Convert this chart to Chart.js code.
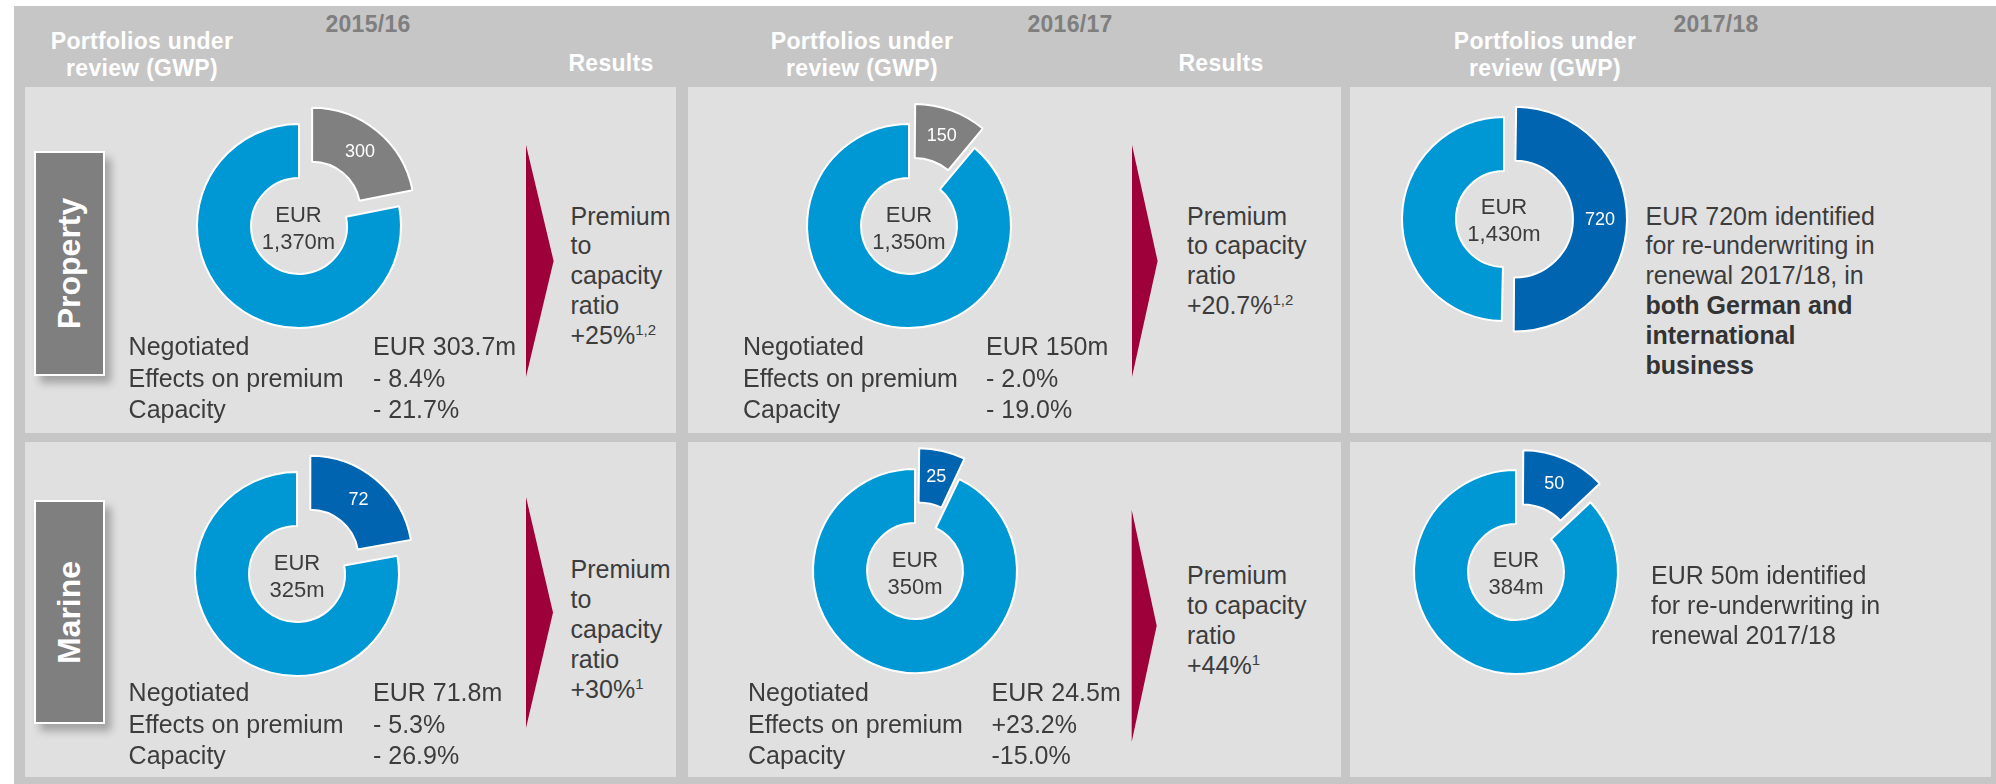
<!DOCTYPE html>
<html lang="en">
<head>
  <meta charset="UTF-8">
  <title>Portfolios under review (GWP)</title>
  <script src="https://cdn.jsdelivr.net/npm/chart.js"></script>
  <style>
    html, body { margin: 0; padding: 0; background: #fff; }
    body {
      width: 1996px; height: 784px; position: relative; overflow: hidden;
      font-family: "Liberation Sans", Arial, sans-serif; color: #3c3c3c;
    }
    .abs { position: absolute; white-space: nowrap; }
    .frame { left: 14px; top: 6px; width: 1982px; height: 778px; background: #c6c6c6; }
    .panel { background: #e0e0e0; }
    .hd { font-weight: bold; font-size: 23px; text-align: center; letter-spacing: 0.3px; }
    .year { color: #7f7f7f; line-height: 30px; }
    .white { color: #fff; }
    .body25 { font-size: 25px; }
    .center { font-size: 22px; line-height: 27px; text-align: center; width: 140px; }
    .tag {
      background: #7f7f7f; border: 2px solid #fff; box-sizing: border-box;
      box-shadow: 6px 7px 8px rgba(0,0,0,0.28);
      display: flex; align-items: center; justify-content: center;
    }
    .tag span { transform: rotate(-90deg); color: #fff; font-weight: bold; font-size: 32px; display: block; }
    sup { font-size: 15px; line-height: 0; vertical-align: 9px; }
    canvas { position: absolute; }
  </style>
</head>
<body>
  <div class="abs frame"></div>

  <script>
    // ---- data (EUR m, GWP) ----
    const years = ['2015/16', '2016/17', '2017/18'];
    const segments = ['Property', 'Marine'];
    const propertyTotal = [1370, 1350, 1430];
    const propertyReviewed = [300, 150, 720];
    const marineTotal = [325, 350, 384];
    const marineReviewed = [72, 25, 50];

    const propNegotiated = ['EUR 303.7m', 'EUR 150m'];
    const propPremium = ['- 8.4%', '- 2.0%'];
    const propCapacity = ['- 21.7%', '- 19.0%'];
    const marNegotiated = ['EUR 71.8m', 'EUR 24.5m'];
    const marPremium = ['- 5.3%', '+23.2%'];
    const marCapacity = ['- 26.9%', '-15.0%'];
    const propRatio = ['+25%', '+20.7%'];
    const propNote = ['1,2', '1,2'];
    const marRatio = ['+30%', '+44%'];
    const marNote = ['1', '1'];

    // ---- layout ----
    const BLUE = '#0098d4', DARK = '#0064b0', GREY = '#808080';
    const EXPLODE = 21; // px the reviewed slice is pulled out
    const colX = [[25, 676], [688, 1341], [1350, 1991]];
    const rowY = [[87, 433], [442, 777]];
    const centers = [
      [[298.5, 226], [909, 226], [1504, 218.5]],
      [[297, 574], [915, 571], [1516, 571.5]]
    ];
    const sliceColors = [[GREY, GREY, DARK], [DARK, DARK, DARK]];

    function put(cls, x, y, html, extra) {
      const d = document.createElement('div');
      d.className = 'abs ' + cls;
      d.style.left = x + 'px';
      d.style.top = y + 'px';
      if (extra) Object.assign(d.style, extra);
      d.innerHTML = html;
      document.body.appendChild(d);
      return d;
    }

    // panels
    rowY.forEach(r => colX.forEach(c => {
      put('panel', c[0], r[0], '', { width: (c[1] - c[0]) + 'px', height: (r[1] - r[0]) + 'px' });
    }));

    // header
    const yearX = [368, 1070, 1716];
    const portX = [142, 862, 1545];
    const resX = [611, 1221];
    years.forEach((y, i) => {
      put('hd year', yearX[i] - 100, 8.5, y, { width: '200px' });
      put('hd white', portX[i] - 130, 27.5, 'Portfolios under<br>review (GWP)',
        { width: '260px', lineHeight: '27px' });
    });
    resX.forEach(x => put('hd white', x - 80, 50, 'Results', { width: '160px', lineHeight: '27px' }));

    // segment tags
    put('tag', 34, 151, '<span>' + segments[0] + '</span>', { width: '71px', height: '225px' });
    put('tag', 34, 500, '<span>' + segments[1] + '</span>', { width: '71px', height: '224px' });

    // arrows
    const arrows = [[526, 553.6, 145, 377], [1132, 1157.6, 145, 377], [526, 553, 497, 728], [1131.7, 1156.7, 510, 741.7]];
    const svgNS = 'http://www.w3.org/2000/svg';
    const svg = document.createElementNS(svgNS, 'svg');
    svg.setAttribute('width', 1996); svg.setAttribute('height', 784);
    svg.style.position = 'absolute'; svg.style.left = 0; svg.style.top = 0;
    arrows.forEach(a => {
      const p = document.createElementNS(svgNS, 'polygon');
      p.setAttribute('points', `${a[0]},${a[2]} ${a[1]},${(a[2] + a[3]) / 2} ${a[0]},${a[3]}`);
      p.setAttribute('fill', '#9e0039');
      svg.appendChild(p);
    });
    document.body.appendChild(svg);

    // Chart.js moves an arc by offset/4 * (2 - sin(min(PI, circumference)))
    function shiftFor(offset, circ) {
      return offset / 4 * (2 - Math.sin(Math.min(Math.PI, circ)));
    }

    // value label inside the exploded slice
    const valueLabel = {
      id: 'valueLabel',
      afterDatasetsDraw(chart) {
        const arc = chart.getDatasetMeta(0).data[0];
        const p = arc.getProps(['x', 'y', 'startAngle', 'endAngle', 'innerRadius', 'outerRadius', 'circumference'], true);
        const mid = (p.startAngle + p.endAngle) / 2;
        const r = (p.innerRadius + p.outerRadius) / 2 + shiftFor(arc.options.offset, p.circumference);
        const ctx = chart.ctx;
        ctx.save();
        ctx.fillStyle = '#fff';
        ctx.font = '18px "Liberation Sans", Arial, sans-serif';
        ctx.textAlign = 'center';
        ctx.textBaseline = 'middle';
        ctx.fillText(String(chart.data.datasets[0].data[0]), p.x + Math.cos(mid) * r, p.y + Math.sin(mid) * r);
        ctx.restore();
      }
    };

    function donut(row, col, total, reviewed) {
      const [cx, cy] = centers[row][col];
      const cv = document.createElement('canvas');
      cv.width = 280; cv.height = 280;
      cv.style.left = (cx - 140) + 'px';
      cv.style.top = (cy - 140) + 'px';
      document.body.appendChild(cv);
      const circ = 2 * Math.PI * reviewed / total;
      const off = 4 * EXPLODE / (2 - Math.sin(Math.min(Math.PI, circ)));
      new Chart(cv, {
        type: 'doughnut',
        data: {
          labels: ['under review', 'other'],
          datasets: [{
            data: [reviewed, total - reviewed],
            backgroundColor: [sliceColors[row][col], BLUE],
            borderColor: '#fff',
            borderWidth: 2,
            offset: [off, 0]
          }]
        },
        options: {
          responsive: false,
          animation: false,
          devicePixelRatio: 1,
          radius: 102,
          cutout: '47%',
          events: [],
          plugins: { legend: { display: false }, tooltip: { enabled: false } }
        },
        plugins: [valueLabel]
      });
      put('center', cx - 70, cy - 25.5, 'EUR<br>' + total.toLocaleString('en-US') + 'm');
    }

    years.forEach((y, i) => {
      donut(0, i, propertyTotal[i], propertyReviewed[i]);
      donut(1, i, marineTotal[i], marineReviewed[i]);
    });

    // negotiated tables
    const tbl = [
      { x: 128.6, vx: 373, top: 331, n: propNegotiated[0], p: propPremium[0], c: propCapacity[0] },
      { x: 743, vx: 986, top: 331, n: propNegotiated[1], p: propPremium[1], c: propCapacity[1] },
      { x: 128.6, vx: 373, top: 677, n: marNegotiated[0], p: marPremium[0], c: marCapacity[0] },
      { x: 748, vx: 991.5, top: 677, n: marNegotiated[1], p: marPremium[1], c: marCapacity[1] }
    ];
    tbl.forEach(t => {
      put('body25', t.x, t.top, 'Negotiated<br>Effects on premium<br>Capacity', { lineHeight: '31.5px' });
      put('body25', t.vx, t.top, t.n + '<br>' + t.p + '<br>' + t.c, { lineHeight: '31.5px' });
    });

    // results
    put('body25', 570.5, 201.5, 'Premium<br>to<br>capacity<br>ratio<br>' + propRatio[0] + '<sup>' + propNote[0] + '</sup>', { lineHeight: '29.8px' });
    put('body25', 1187, 201.5, 'Premium<br>to capacity<br>ratio<br>' + propRatio[1] + '<sup>' + propNote[1] + '</sup>', { lineHeight: '29.8px' });
    put('body25', 570.5, 554, 'Premium<br>to<br>capacity<br>ratio<br>' + marRatio[0] + '<sup>' + marNote[0] + '</sup>', { lineHeight: '30px' });
    put('body25', 1187, 559.5, 'Premium<br>to capacity<br>ratio<br>' + marRatio[1] + '<sup>' + marNote[1] + '</sup>', { lineHeight: '30px' });

    // 2017/18 outlook
    put('body25', 1645.5, 201.6, 'EUR ' + propertyReviewed[2] + 'm identified<br>for re-underwriting in<br>renewal 2017/18, in<br>' +
      '<b style="color:#333">both German and<br>international<br>business</b>', { lineHeight: '29.8px' });
    put('body25', 1651, 560, 'EUR ' + marineReviewed[2] + 'm identified<br>for re-underwriting in<br>renewal 2017/18', { lineHeight: '30px' });
  </script>
</body>
</html>
